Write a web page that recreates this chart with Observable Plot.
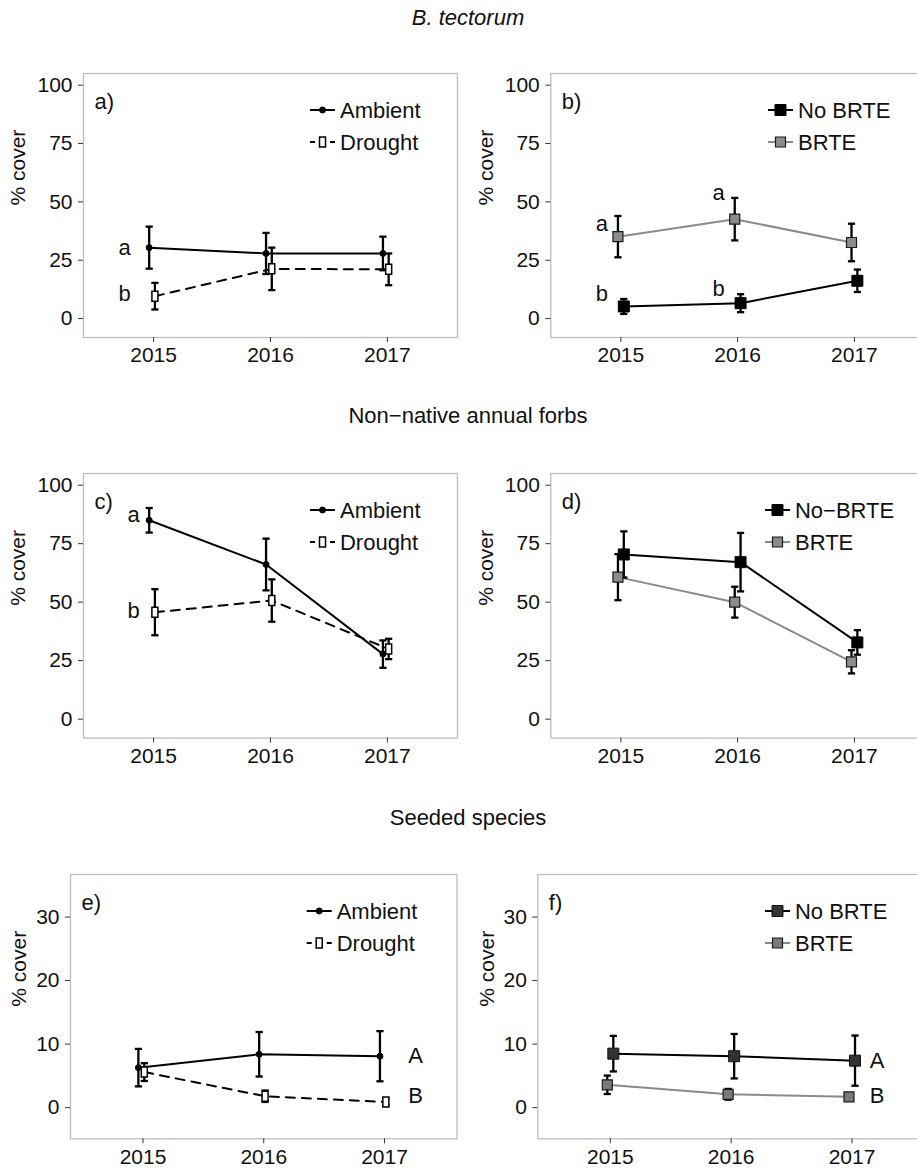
<!DOCTYPE html>
<html><head><meta charset="utf-8">
<script src="https://cdn.jsdelivr.net/npm/d3@7"></script>
<script src="https://cdn.jsdelivr.net/npm/@observablehq/plot@0.6"></script>
<style>
html,body{margin:0;padding:0;background:#fff;overflow:hidden;}
#fig{position:relative;width:917px;height:1170px;overflow:hidden;font-family:"Liberation Sans",Arial,Helvetica,sans-serif;color:#111;}
.rowtitle{position:absolute;left:0;width:936px;text-align:center;font-size:22px;line-height:22px;}
.panel{position:absolute;}
</style></head><body><div id="fig"></div>
<script>
// ---------- data ----------
const years = [2015, 2016, 2017];
const rowTitles = ["B. tectorum", "Non\u2212native annual forbs", "Seeded species"];
const yTicksTop = [0, 25, 50, 75, 100];
const yTicksBottom = [0, 10, 20, 30];

// a) B. tectorum: Ambient vs Drought
const aAmbientMean = [30.4, 27.9, 27.9];
const aAmbientErr  = [9.0, 8.8, 7.2];
const aDroughtMean = [9.6, 21.3, 21.1];
const aDroughtErr  = [5.7, 9.1, 6.8];
const aLetters = ["a", "b"];
const aLetterYears = [2015, 2015];
const aLetterY = [30.4, 10.6];

// b) B. tectorum: No BRTE vs BRTE
const bNoMean = [5.2, 6.6, 16.2];
const bNoErr  = [3.2, 3.85, 4.8];
const bBrteMean = [35.1, 42.6, 32.6];
const bBrteErr  = [8.85, 9.1, 8.05];
const bLetters = ["a", "b", "a", "b"];
const bLetterYears = [2015, 2015, 2016, 2016];
const bLetterY = [40.4, 10.4, 54.0, 12.9];

// c) Non-native annual forbs: Ambient vs Drought
const cAmbientMean = [85.0, 66.1, 27.8];
const cAmbientErr  = [5.25, 11.05, 5.85];
const cDroughtMean = [45.7, 50.7, 30.0];
const cDroughtErr  = [9.85, 9.05, 4.35];
const cLetters = ["a", "b"];
const cLetterYears = [2015, 2015];
const cLetterY = [87.1, 46.4];

// d) Non-native annual forbs: No-BRTE vs BRTE
const dNoMean = [70.4, 67.1, 32.8];
const dNoErr  = [9.85, 12.5, 5.25];
const dBrteMean = [60.7, 50.0, 24.5];
const dBrteErr  = [9.85, 6.6, 4.95];

// e) Seeded species: Ambient vs Drought
const eAmbientMean = [6.3, 8.4, 8.1];
const eAmbientErr  = [2.95, 3.5, 3.95];
const eDroughtMean = [5.6, 1.8, 0.9];
const eDroughtErr  = [1.4, 0.9, 0.55];
const eLetters = ["A", "B"];
const eLetterYears = [2017, 2017];
const eLetterY = [8.2, 1.9];

// f) Seeded species: No BRTE vs BRTE
const fNoMean = [8.5, 8.1, 7.4];
const fNoErr  = [2.8, 3.5, 3.95];
const fBrteMean = [3.6, 2.1, 1.7];
const fBrteErr  = [1.45, 0.85, 0.4];
const fLetters = ["A", "B"];
const fLetterYears = [2017, 2017];
const fLetterY = [7.4, 1.9];

// ---------- symbols ----------
const rectSym = {draw(ctx, size){ const s = Math.sqrt(size/Math.PI); ctx.moveTo(-0.6*s,-s); ctx.lineTo(0.6*s,-s); ctx.lineTo(0.6*s,s); ctx.lineTo(-0.6*s,s); ctx.closePath(); }};
const squareSym = {draw(ctx, size){ const s = Math.sqrt(size/Math.PI); ctx.moveTo(-s,-s); ctx.lineTo(s,-s); ctx.lineTo(s,s); ctx.lineTo(-s,s); ctx.closePath(); }};
const capSym = {draw(ctx, size){ const s = Math.sqrt(size/Math.PI); ctx.moveTo(-s,0); ctx.lineTo(s,0); }};
const circleSym = d3.symbolCircle;

// ---------- styles ----------
const sAmbient = {line:"#000", dash:null, symbol:circleSym, r:3, fill:"#000", stroke:"#000", sw:1, off:-0.038};
const sDrought = {line:"#000", dash:"9,7", symbol:rectSym, r:5, fill:"#fff", stroke:"#000", sw:1.5, off:0.011};
const sNo = {line:"#000", dash:null, symbol:squareSym, r:5.5, fill:"#000", stroke:"#000", sw:1, off:0.025};
const sBrte = {line:"#8a8a8a", dash:null, symbol:squareSym, r:5, fill:"#8c8c8c", stroke:"#1a1a1a", sw:1.2, off:-0.025};
const sNoF = {...sNo, fill:"#333333", stroke:"#111"};
const sBrteF = {...sBrte, fill:"#7a7a7a"};

function letters(labels, yrs, ys){ return labels.map((l,i)=>({label:l, year:yrs[i], y:ys[i]})); }

const panels = [
  {tag:"a)", L:83, R:457, T:72.7, B:336.7, col:0, ydom:[-8.1,105], yticks:yTicksTop, ylabDx:-65,
   series:[{name:"Drought", mean:aDroughtMean, err:aDroughtErr, st:sDrought},{name:"Ambient", mean:aAmbientMean, err:aAmbientErr, st:sAmbient}],
   legend:[["Ambient", sAmbient],["Drought", sDrought]], keyX:310, letters:letters(aLetters,aLetterYears,aLetterY), letterDx:-29},
  {tag:"b)", L:550.3, R:924, T:72.7, B:336.7, col:1, ydom:[-8.1,105], yticks:yTicksTop, ylabDx:-64.3,
   series:[{name:"BRTE", mean:bBrteMean, err:bBrteErr, st:sBrte},{name:"No BRTE", mean:bNoMean, err:bNoErr, st:sNo}],
   legend:[["No BRTE", sNo],["BRTE", sBrte]], keyX:768, letters:letters(bLetters,bLetterYears,bLetterY), letterDx:-19},
  {tag:"c)", L:83, R:457, T:472.7, B:737.3, col:0, ydom:[-8.1,105], yticks:yTicksTop, ylabDx:-65,
   series:[{name:"Drought", mean:cDroughtMean, err:cDroughtErr, st:sDrought},{name:"Ambient", mean:cAmbientMean, err:cAmbientErr, st:sAmbient}],
   legend:[["Ambient", sAmbient],["Drought", sDrought]], keyX:310, letters:letters(cLetters,cLetterYears,cLetterY), letterDx:-20},
  {tag:"d)", L:550.3, R:924, T:472.7, B:737.3, col:1, ydom:[-8.1,105], yticks:yTicksTop, ylabDx:-64.3,
   series:[{name:"BRTE", mean:dBrteMean, err:dBrteErr, st:sBrte},{name:"No-BRTE", mean:dNoMean, err:dNoErr, st:sNo}],
   legend:[["No\u2212BRTE", sNo],["BRTE", sBrte]], keyX:765, letters:[], letterDx:0},
  {tag:"e)", L:70, R:456.5, T:874, B:1138.3, col:0, ydom:[-4.9,36.7], yticks:yTicksBottom, ylabDx:-51,
   series:[{name:"Drought", mean:eDroughtMean, err:eDroughtErr, st:sDrought},{name:"Ambient", mean:eAmbientMean, err:eAmbientErr, st:sAmbient}],
   legend:[["Ambient", sAmbient],["Drought", sDrought]], keyX:306.7, letters:letters(eLetters,eLetterYears,eLetterY), letterDx:31},
  {tag:"f)", L:537.3, R:924, T:874, B:1138.3, col:1, ydom:[-4.9,36.7], yticks:yTicksBottom, ylabDx:-50.3,
   series:[{name:"BRTE", mean:fBrteMean, err:fBrteErr, st:sBrteF},{name:"No BRTE", mean:fNoMean, err:fNoErr, st:sNoF}],
   legend:[["No BRTE", sNoF],["BRTE", sBrteF]], keyX:765, letters:letters(fLetters,fLetterYears,fLetterY), letterDx:25}
];

const fig = document.getElementById("fig");
const titleTops = [6.5, 405, 807];
rowTitles.forEach((t,i)=>{
  const d = document.createElement("div");
  d.className = "rowtitle"; d.style.top = titleTops[i] + "px";
  if (i === 0) d.style.fontStyle = "italic";
  d.textContent = t; fig.appendChild(d);
});

panels.forEach(p => {
  const svgLeft = p.col === 0 ? 0 : 462;
  const svgWidth = p.col === 0 ? 462 : 470;
  const svgTop = p.T - 24;
  const svgHeight = (p.B + 34) - svgTop;
  const mL = p.L - svgLeft, mR = svgLeft + svgWidth - p.R, mT = 24, mB = 34;
  const rows = [];
  p.series.forEach(s => s.mean.forEach((m,i)=> rows.push({series:s.name, year:years[i], mean:m, err:s.err[i], off:s.st.off})));
  const X = d => d.year + d.off;
  const marks = [
    Plot.frame({stroke:"#bdbdbd", strokeWidth:1.3}),
    ...p.series.map(s => Plot.line(rows.filter(r=>r.series===s.name), {x:X, y:"mean", stroke:s.st.line, strokeWidth:2, strokeDasharray:s.st.dash})),
    Plot.ruleX(rows, {x:X, y1:d=>d.mean-d.err, y2:d=>d.mean+d.err, stroke:"#000", strokeWidth:2.3}),
    Plot.dot(rows, {x:X, y:d=>d.mean-d.err, symbol:capSym, r:3.6, stroke:"#000", fill:"none", strokeWidth:2.3}),
    Plot.dot(rows, {x:X, y:d=>d.mean+d.err, symbol:capSym, r:3.6, stroke:"#000", fill:"none", strokeWidth:2.3}),
    ...p.series.map(s => Plot.dot(rows.filter(r=>r.series===s.name), {x:X, y:"mean", symbol:s.st.symbol, r:s.st.r, fill:s.st.fill, stroke:s.st.stroke, strokeWidth:s.st.sw})),
    Plot.text(p.letters, {x:"year", y:"y", text:"label", dx:p.letterDx, fontSize:22, fill:"#111"}),
    Plot.text([p.tag], {frameAnchor:"top-left", text:d=>d, dx:11, dy:20, fontSize:22, textAnchor:"start", fill:"#111"}),
    Plot.text(["% cover"], {frameAnchor:"left", text:d=>d, rotate:-90, dx:p.ylabDx, fontSize:21, fill:"#111"}),
    Plot.axisY({ticks:p.yticks, tickSize:5, tickPadding:6, fontSize:21, label:null, stroke:"#333", fill:"#111"}),
    Plot.axisX({ticks:years, tickFormat:"d", tickSize:5, tickPadding:5, fontSize:21, label:null, stroke:"#333", fill:"#111"})
  ];
  const svg = Plot.plot({
    width: svgWidth, height: svgHeight,
    marginLeft: mL, marginRight: mR, marginTop: mT, marginBottom: mB,
    x: {domain:[2014.4, 2017.6]},
    y: {domain:p.ydom},
    style: {fontFamily:'"Liberation Sans", Arial, Helvetica, sans-serif', fontSize:"21px", background:"transparent", overflow:"visible"},
    marks
  });
  svg.classList.add("panel");
  svg.style.left = svgLeft + "px";
  svg.style.top = svgTop + "px";
  // legend
  const g = d3.select(svg).append("g").attr("class","legend").attr("text-anchor","start");
  p.legend.forEach(([label, st], i) => {
    const y = mT + (i === 0 ? 37 : 69);
    const kx = p.keyX - svgLeft;
    g.append("line").attr("x1", kx).attr("x2", kx + 25).attr("y1", y).attr("y2", y)
      .attr("stroke", st.line).attr("stroke-width", 2)
      .attr("stroke-dasharray", st.dash ? "5,15" : null);
    g.append("path").attr("d", d3.symbol(st.symbol, Math.PI * st.r * st.r)())
      .attr("transform", `translate(${kx + 12.5},${y})`)
      .attr("fill", st.fill).attr("stroke", st.stroke).attr("stroke-width", st.sw);
    g.append("text").attr("x", kx + 30).attr("y", y).attr("dy", "0.35em")
      .attr("text-anchor", "start")
      .attr("font-size", 22).attr("fill", "#111").text(label);
  });
  fig.appendChild(svg);
});
</script></body></html>
